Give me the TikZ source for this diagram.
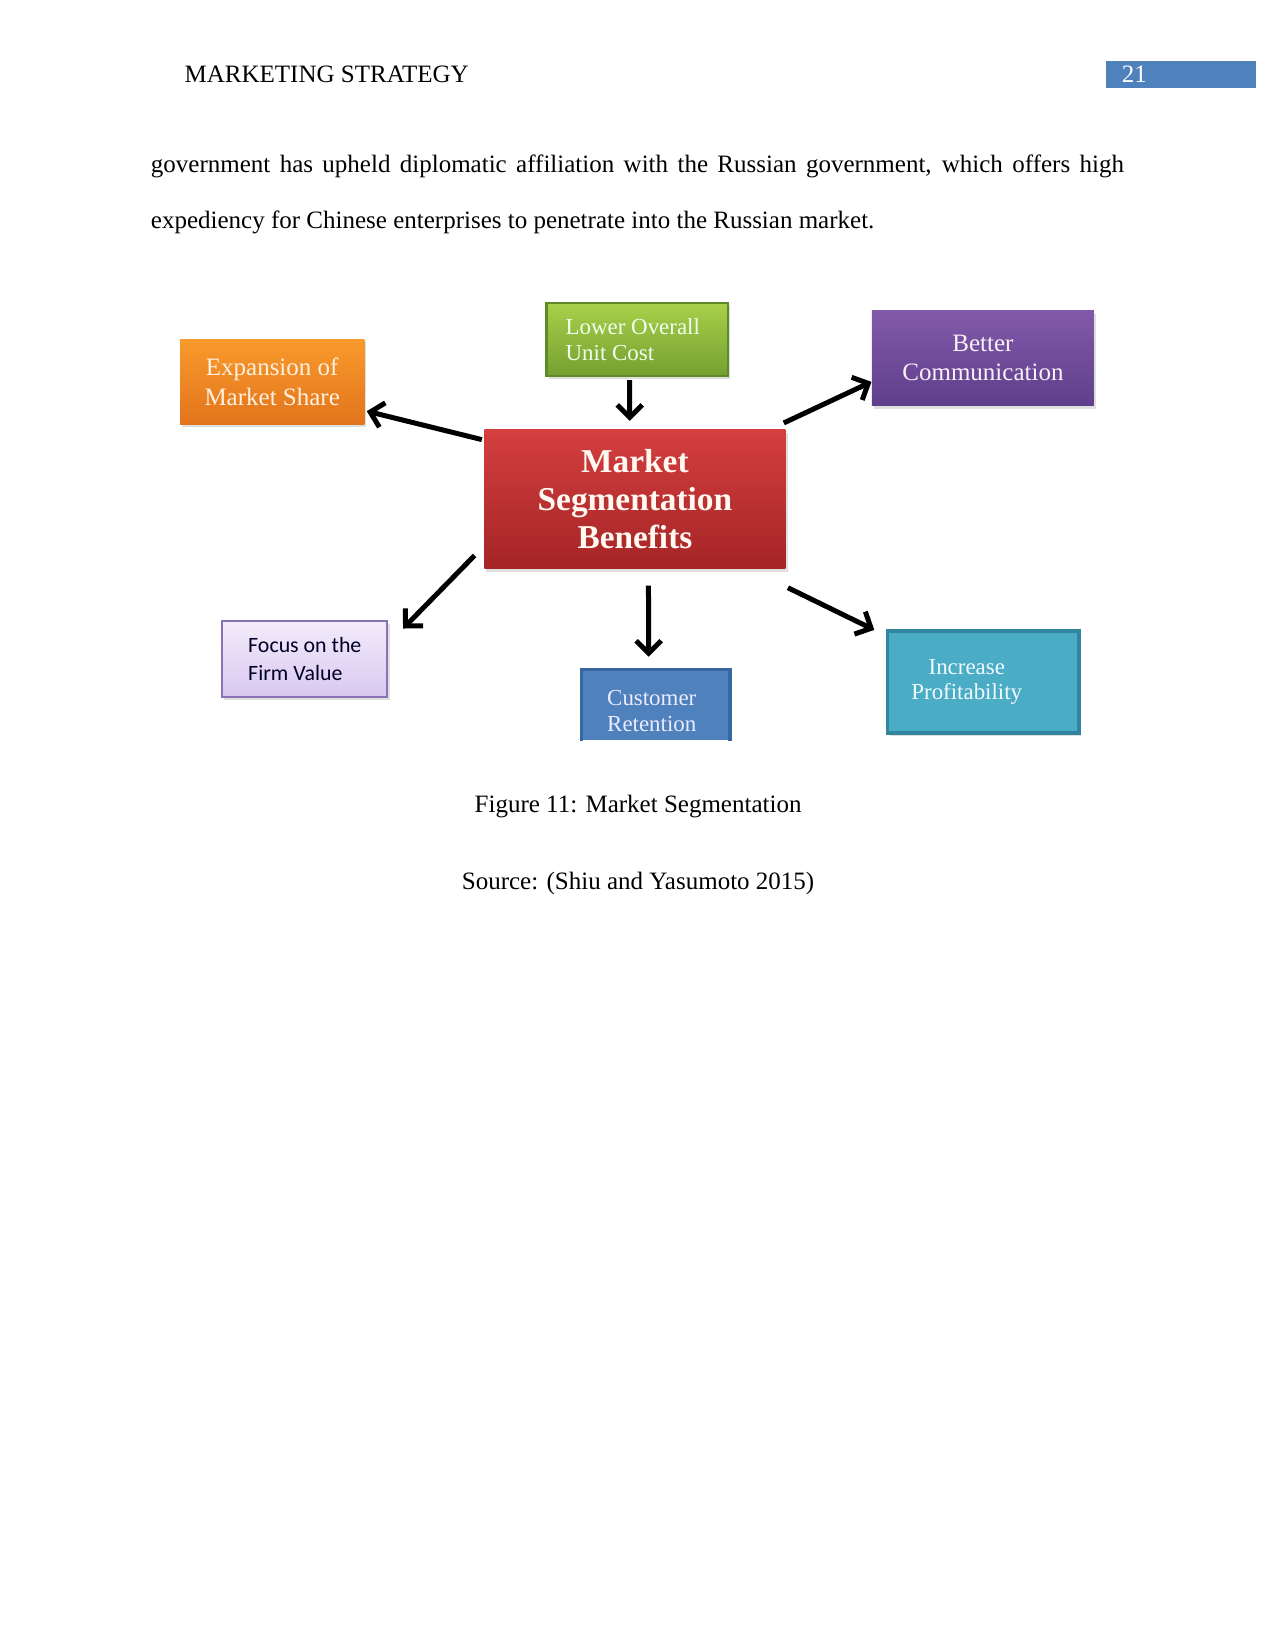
\documentclass[tikz,border=0pt]{standalone}
\usepackage{fontspec}
\setmainfont{Liberation Serif}
\newfontfamily\calfont{Carlito}
\usepackage{tikz}
\usetikzlibrary{arrows.meta,shadows}

\definecolor{headblue}{HTML}{4F81BD}
\definecolor{orangeT}{HTML}{F99A2C}
\definecolor{orangeB}{HTML}{E2741C}
\definecolor{greenT}{HTML}{A8D04A}
\definecolor{greenB}{HTML}{74A030}
\definecolor{greenE}{HTML}{5F8A2A}
\definecolor{purpleT}{HTML}{8259AA}
\definecolor{purpleB}{HTML}{5F3F8C}
\definecolor{redT}{HTML}{D43F3F}
\definecolor{redB}{HTML}{A52426}
\definecolor{lavT}{HTML}{F3ECFB}
\definecolor{lavB}{HTML}{D8C8F0}
\definecolor{lavE}{HTML}{8A73B5}
\definecolor{custF}{HTML}{4F81BD}
\definecolor{custE}{HTML}{3866A2}
\definecolor{tealF}{HTML}{4BACC6}
\definecolor{tealE}{HTML}{31859C}

\tikzset{
  box/.style={rectangle, inner sep=0pt, align=center,
    drop shadow={opacity=0.25, shadow xshift=1pt, shadow yshift=-1.5pt}},
  serif11/.style={font=\fontsize{11}{12.3}\selectfont},
  serif12/.style={font=\fontsize{12}{14.1}\selectfont},
  arr/.style={-{Straight Barb[length=6pt,width=12pt,line width=2.4pt]}, line width=2.4pt, black},
  pagetext/.style={font=\fontsize{12}{14}\selectfont, inner sep=0pt}
}

\begin{document}
\begin{tikzpicture}[x=0.5054pt, y=-0.5054pt]
    \useasboundingbox (0,0) rectangle (1211,1568);
    % running head
    \node[pagetext, anchor=base west] (runhead) at (175,78.5) {MARKETING STRATEGY};
    \fill[headblue] (1050,58) rectangle (1193,84);
    \node[pagetext, anchor=base west, white] (pagenum) at (1065,78.5) {21};
    % body text
    \node[pagetext, anchor=base west] (bodyone) at (143,164)
        {\hbox to 467pt{government has upheld diplomatic affiliation with the Russian government, which offers high}};
    \node[pagetext, anchor=base west] (bodytwo) at (143,217)
        {expediency for Chinese enterprises to penetrate into the Russian market.};

    % centre box
    \node[box, top color=redT, bottom color=redB, minimum width=144.5pt, minimum height=66.7pt,
          text=white!95!orange, font=\fontsize{16}{18.2}\selectfont\bfseries] (seg) at (603,474)
          {Market\\Segmentation\\Benefits};
    % outer boxes
    \node[box, top color=orangeT, bottom color=orangeB, minimum width=88.4pt, minimum height=40.9pt,
          text=orange!12!white, serif12] (expand) at (258.5,362.5) {Expansion of\\Market Share};
    \node[box, top color=greenT, bottom color=greenB, draw=greenE, line width=1pt, minimum width=86.9pt,
          minimum height=34.9pt, text=green!6!white, serif11, align=left] (lowcost) at (605,322.5)
          {Lower Overall\\Unit Cost\hspace*{26pt}};
    \node[box, top color=purpleT, bottom color=purpleB, minimum width=106.6pt, minimum height=45.5pt,
          text=violet!6!white, serif12] (comm) at (933.5,340) {Better\\Communication};
    \node[box, top color=lavT, bottom color=lavB, draw=lavE, line width=1pt, minimum width=79.3pt,
          minimum height=36.4pt, text=black!85!blue, align=left,
          font=\calfont\fontsize{10.5}{13.6}\selectfont] (focus) at (289.5,626) {Focus on the\\Firm Value};
    \node[rectangle, fill=custF, inner sep=0pt, minimum width=70.8pt, minimum height=33.9pt] (retain) at (623,669.5) {};
    \node[serif11, align=left, text=blue!8!white] (retaintext) at (619,675) {Customer\\Retention};
    \draw[custE, line width=1.6pt] (retain.south west) -- (retain.north west) -- (retain.north east) -- (retain.south east);
    \node[box, fill=tealF, draw=tealE, line width=1.8pt, minimum width=92pt, minimum height=49pt,
          text=cyan!6!white, serif11] (profit) at (934,647.5) {\hspace*{-16pt}Increase\\\hspace*{-16pt}Profitability};

    % arrows
    \draw[arr] ([shift={(-3.5pt,-1.5pt)}]lowcost.south) -- ([shift={(-2.5pt,4pt)}]seg.north);
    \draw[arr] ([shift={(-1pt,-5pt)}]seg.north west) -- ([shift={(1pt,6.5pt)}]expand.south east);
    \draw[arr] ([shift={(-1pt,3pt)}]seg.north east) -- ([shift={(0pt,11.5pt)}]comm.south west);
    \draw[arr] ([shift={(-4.5pt,6.5pt)}]seg.south west) -- ([shift={(7pt,-4pt)}]focus.north east);
    \draw[arr] ([shift={(6.5pt,-8pt)}]seg.south) -- ([shift={(-3.5pt,6pt)}]retain.north);
    \draw[arr] ([shift={(1pt,-9pt)}]seg.south east) -- ([shift={(-5.5pt,-0.5pt)}]profit.north west);

    % caption
    \node[pagetext, anchor=base] (caption) at (606,772) {Figure 11: Market Segmentation};
    \node[pagetext, anchor=base] (source) at (606,845) {Source: (Shiu and Yasumoto 2015)};
\end{tikzpicture}
\end{document}
